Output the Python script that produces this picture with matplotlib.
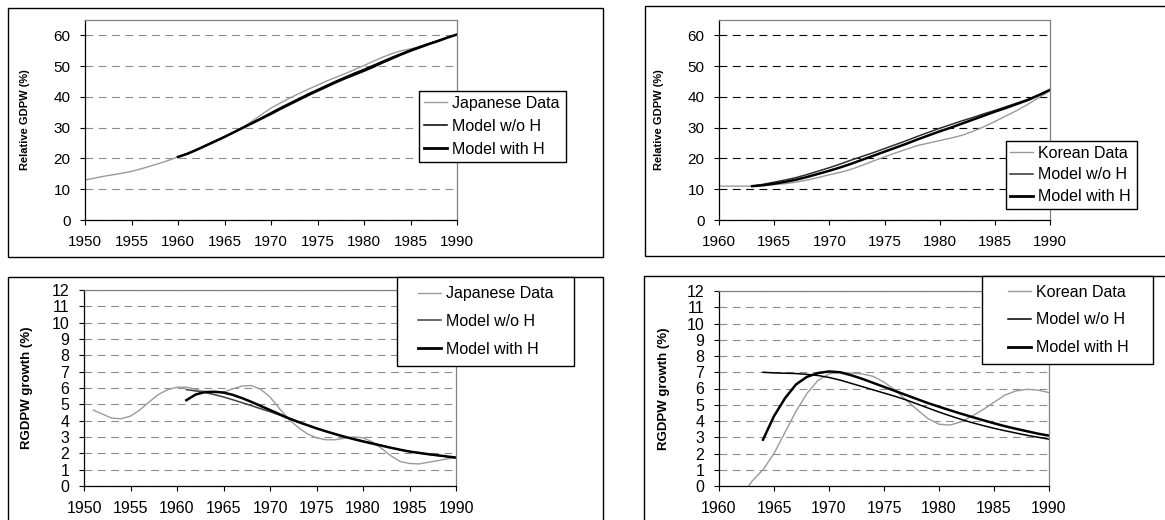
import matplotlib
matplotlib.use("Agg")
import matplotlib.pyplot as plt
from matplotlib.patches import Rectangle
from matplotlib.lines import Line2D

plt.rcParams['font.family'] = ['Liberation Sans', 'DejaVu Sans']

W, H = 1165, 520

# --- data ---
jp_years = list(range(1950, 1991))
jp_level = [13.0, 13.6, 14.2, 14.7, 15.2, 15.8, 16.6, 17.5, 18.4, 19.4,
            20.5, 21.6, 22.8, 24.0, 25.4, 26.9, 28.5, 30.2, 32.2, 34.3,
            36.4, 38.0, 39.6, 41.1, 42.5, 43.8, 45.2, 46.4, 47.6, 48.9,
            50.2, 51.6, 52.9, 54.1, 55.0, 55.6, 56.3, 57.2, 58.3, 59.3, 60.3]
jp_model_years = list(range(1960, 1991))
jp_level_noh = [20.5, 21.6, 22.9, 24.3, 25.7, 27.1, 28.6, 30.1, 31.7, 33.3,
                34.9, 36.5, 38.0, 39.5, 41.0, 42.4, 43.8, 45.2, 46.5, 47.8,
                49.0, 50.3, 51.6, 52.9, 54.1, 55.3, 56.4, 57.4, 58.4, 59.4, 60.3]
jp_level_h = [20.5, 21.5, 22.8, 24.2, 25.6, 27.0, 28.5, 30.0, 31.5, 33.0,
              34.5, 36.1, 37.6, 39.1, 40.6, 42.0, 43.4, 44.8, 46.1, 47.3,
              48.5, 49.8, 51.2, 52.5, 53.8, 55.0, 56.1, 57.2, 58.2, 59.3, 60.3]

kr_years = list(range(1960, 1991))
kr_level = [11.0, 11.0, 11.0, 11.0, 11.2, 11.5, 11.8, 12.3, 13.0, 13.8,
            14.7, 15.5, 16.5, 17.8, 19.2, 20.5, 21.8, 23.0, 24.2, 25.0,
            25.8, 26.6, 27.5, 28.8, 30.3, 32.0, 33.8, 35.6, 37.6, 39.8, 42.0]
kr_model_years = list(range(1963, 1991))
kr_level_noh = [11.0, 11.6, 12.3, 13.0, 13.8, 14.8, 15.9,
                17.0, 18.2, 19.5, 20.7, 21.9, 23.2, 24.5, 25.8, 27.2, 28.5,
                29.8, 31.0, 32.2, 33.3, 34.5, 35.6, 36.8, 38.0, 39.2, 40.7, 42.3]
kr_level_h = [11.0, 11.3, 11.8, 12.4, 13.1, 14.0, 15.0,
              16.0, 17.1, 18.3, 19.6, 20.9, 22.2, 23.5, 24.8, 26.2, 27.5,
              28.8, 30.0, 31.3, 32.6, 33.9, 35.2, 36.4, 37.7, 39.0, 40.6, 42.3]

jp_growth_years = list(range(1951, 1991))
jp_growth = [4.65, 4.4, 4.15, 4.12, 4.28, 4.65, 5.15, 5.6, 5.9,
             6.05, 6.05, 5.92, 5.78, 5.72, 5.75, 5.95, 6.12, 6.15, 5.92,
             5.45, 4.75, 4.1, 3.6, 3.2, 2.95, 2.83, 2.83, 2.92, 3.0,
             2.95, 2.7, 2.3, 1.85, 1.5, 1.38, 1.35, 1.45, 1.55, 1.65, 1.75]
jp_growth_model_years = list(range(1961, 1991))
jp_growth_noh = [5.9, 5.82, 5.72, 5.6, 5.45, 5.28, 5.1, 4.92, 4.73,
                 4.55, 4.35, 4.13, 3.92, 3.72, 3.52, 3.35, 3.18, 3.02, 2.88,
                 2.75, 2.62, 2.48, 2.35, 2.22, 2.11, 2.02, 1.94, 1.87, 1.8, 1.74]
jp_growth_h = [5.25, 5.6, 5.75, 5.77, 5.72, 5.58, 5.38, 5.15, 4.9,
               4.65, 4.4, 4.15, 3.93, 3.73, 3.53, 3.35, 3.18, 3.02, 2.87,
               2.73, 2.6, 2.47, 2.34, 2.22, 2.11, 2.03, 1.95, 1.88, 1.81, 1.74]

kr_growth_years = list(range(1962, 1991))
kr_growth = [-0.7, 0.3, 1.0, 2.0, 3.3, 4.6, 5.7, 6.5, 6.9,
             7.0, 6.95, 6.9, 6.75, 6.4, 5.9, 5.3, 4.7, 4.15,
             3.8, 3.75, 3.95, 4.3, 4.7, 5.15, 5.6, 5.85, 5.95, 5.9, 5.75]
kr_growth_model_years = list(range(1964, 1991))
kr_growth_noh = [7.0, 6.96, 6.94, 6.92, 6.87, 6.8,
                 6.68, 6.52, 6.32, 6.12, 5.92, 5.72, 5.52, 5.3, 5.05, 4.8,
                 4.55, 4.32, 4.1, 3.9, 3.72, 3.55, 3.4, 3.26, 3.12, 3.0, 2.88]
kr_growth_h = [2.85, 4.3, 5.4, 6.25, 6.72, 6.95,
               7.05, 7.0, 6.82, 6.6, 6.35, 6.1, 5.85, 5.6, 5.35, 5.1,
               4.88, 4.66, 4.45, 4.25, 4.05, 3.86, 3.68, 3.52, 3.37, 3.22, 3.1]

legend_labels_jp = ['Japanese Data', 'Model w/o H', 'Model with H']
legend_labels_kr = ['Korean Data', 'Model w/o H', 'Model with H']

DATA_C = '#9a9a9a'
GRID_GRAY = '#8c8c8c'


def fx(px):
    return px / W


def fy(py):
    return 1 - py / H


def add_frame(x0, y0, x1, y1, fill=False, z=0.5):
    r = Rectangle((fx(x0), fy(y1)), fx(x1 - x0), (y1 - y0) / H,
                  transform=fig.transFigure, fill=fill, facecolor='white',
                  edgecolor='black', linewidth=1.0, zorder=z)
    fig.add_artist(r)


def make_axes(x0, y0, x1, y1):
    return fig.add_axes([fx(x0), fy(y1), fx(x1 - x0), (y1 - y0) / H])


def style_axes(ax, xlim, xticks, ylim, yticks, grid_c, xfs, yfs):
    ax.set_xlim(*xlim)
    ax.set_ylim(*ylim)
    ax.set_xticks(xticks)
    ax.set_yticks(yticks)
    ax.patch.set_alpha(0)
    for s in ['left', 'bottom']:
        ax.spines[s].set_color('black')
        ax.spines[s].set_linewidth(0.9)
    for s in ['top', 'right']:
        ax.spines[s].set_color('#808080')
        ax.spines[s].set_linewidth(0.9)
    ax.tick_params(axis='x', direction='out', length=3.5, width=0.8, pad=7.5, labelsize=xfs)
    ax.tick_params(axis='y', direction='out', length=3.5, width=0.8, pad=7, labelsize=yfs)
    ax.yaxis.grid(True, color=grid_c, linestyle=(0, (7, 5)), linewidth=0.8)
    ax.set_axisbelow(True)


def add_legend(labels, box, inset, noh_color, spacing):
    x0, y0, x1, y1 = box
    add_frame(x0, y0, x1, y1, fill=True, z=4)
    handles = [Line2D([], [], color=DATA_C, lw=1.0),
               Line2D([], [], color=noh_color, lw=1.1),
               Line2D([], [], color='black', lw=2.0)]
    fig.legend(handles, labels, loc='center left',
               bbox_to_anchor=(fx(x0 + inset), fy((y0 + y1) / 2)),
               frameon=False, fontsize=11.5, borderpad=0, borderaxespad=0,
               handlelength=1.45, handletextpad=0.3, labelspacing=spacing)


fig = plt.figure(figsize=(W / 100, H / 100), dpi=100)

# panel frames
add_frame(8, 8, 603, 257)
add_frame(645, 6, 1200, 256)
add_frame(8, 277, 603, 560)
add_frame(644, 276, 1200, 560)

# top left: Japanese relative GDPW
ax1 = make_axes(85, 20, 457, 220)
ax1.plot(jp_years, jp_level, color=DATA_C, lw=1.0)
ax1.plot(jp_model_years, jp_level_noh, color='black', lw=1.0)
ax1.plot(jp_model_years, jp_level_h, color='black', lw=1.8)
style_axes(ax1, (1950, 1990), range(1950, 1991, 5), (0, 65), range(0, 61, 10),
           GRID_GRAY, 11, 11)
ax1.set_ylabel('Relative GDPW (%)', fontsize=8, fontweight='bold')
ax1.yaxis.set_label_coords((30 - 85) / 372, 0.5)

# top right: Korean relative GDPW
ax2 = make_axes(719, 20, 1050, 220)
ax2.plot(kr_years, kr_level, color=DATA_C, lw=1.0)
ax2.plot(kr_model_years, kr_level_noh, color='#303030', lw=1.1)
ax2.plot(kr_model_years, kr_level_h, color='black', lw=1.8)
style_axes(ax2, (1960, 1990), range(1960, 1991, 5), (0, 65), range(0, 61, 10),
           'black', 11, 11)
ax2.set_ylabel('Relative GDPW (%)', fontsize=8, fontweight='bold')
ax2.yaxis.set_label_coords((664 - 719) / 331, 0.5)

# bottom left: Japanese growth
ax3 = make_axes(84, 290, 456, 486)
ax3.plot(jp_growth_years, jp_growth, color=DATA_C, lw=1.0)
ax3.plot(jp_growth_model_years, jp_growth_noh, color='#404040', lw=1.1)
ax3.plot(jp_growth_model_years, jp_growth_h, color='black', lw=1.8)
style_axes(ax3, (1950, 1990), range(1950, 1991, 5), (0, 12), range(0, 13),
           GRID_GRAY, 11.5, 11.5)
ax3.set_ylabel('RGDPW growth (%)', fontsize=9.5, fontweight='bold')
ax3.yaxis.set_label_coords((33 - 84) / 372, 0.5)

# bottom right: Korean growth
ax4 = make_axes(719, 291, 1049, 486)
ax4.plot(kr_growth_years, kr_growth, color=DATA_C, lw=1.0)
ax4.plot(kr_growth_model_years, kr_growth_noh, color='black', lw=1.1)
ax4.plot(kr_growth_model_years, kr_growth_h, color='black', lw=1.8)
style_axes(ax4, (1960, 1990), range(1960, 1991, 5), (0, 12), range(0, 13),
           GRID_GRAY, 11.5, 11.5)
ax4.set_ylabel('RGDPW growth (%)', fontsize=9.5, fontweight='bold')
ax4.yaxis.set_label_coords((670 - 719) / 330, 0.5)

# legends (boxes drawn over the plots, like the original)
add_legend(legend_labels_jp, (419, 91, 566, 162), 5, 'black', 0.5)
add_legend(legend_labels_kr, (1006, 141, 1137, 209), 4, '#303030', 0.42)
add_legend(legend_labels_jp, (397, 277, 574, 366), 21, '#404040', 0.8)
add_legend(legend_labels_kr, (982, 276, 1153, 364), 26, 'black', 0.8)

fig.savefig('out.png', dpi=100)
